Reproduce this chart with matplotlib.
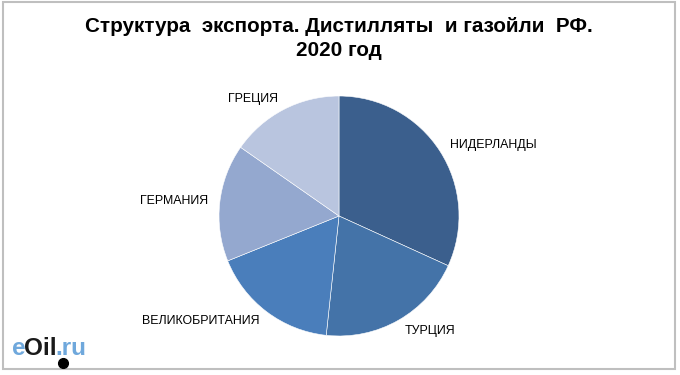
import matplotlib.pyplot as plt
from matplotlib.patches import Rectangle
from matplotlib.lines import Line2D

plt.rcParams['font.family'] = ['Liberation Sans', 'DejaVu Sans']

countries = ['НИДЕРЛАНДЫ', 'ТУРЦИЯ', 'ВЕЛИКОБРИТАНИЯ', 'ГЕРМАНИЯ', 'ГРЕЦИЯ']
shares = [31.8, 19.9, 17.2, 15.8, 15.3]
colors = ['#3b5f8d', '#4473a8', '#4a7ebb', '#94a8cf', '#b9c5df']

fig = plt.figure(figsize=(6.8, 3.75), dpi=100)

# рамка вокруг графика
fig.patches.append(Rectangle((0.004, 0.016), 0.988, 0.978, transform=fig.transFigure,
                             fill=False, edgecolor='#bfbfbf', linewidth=1.5))

ax = fig.add_axes([(339 - 120) / 680, (375 - 216 - 120) / 375, 240 / 680, 240 / 375])
wedges, texts = ax.pie(shares, labels=countries, colors=colors, startangle=90,
                       counterclock=False, labeldistance=1.1,
                       wedgeprops=dict(edgecolor='white', linewidth=0.4),
                       textprops=dict(fontsize=8.9, color='black'))
ax.set_xlim(-1, 1)
ax.set_ylim(-1, 1)
ax.set_aspect('equal')

fig.text(0.499, 0.897, 'Структура  экспорта. Дистилляты  и газойли  РФ.\n2020 год',
         ha='center', va='center', fontsize=14.9, fontweight='bold', linespacing=1.3)

# логотип eOil.ru
base = 20 / 375
x = 12
for part, col in [('e', '#6fa8dc'), ('Oil', '#1a1a1a'), ('.ru', '#6fa8dc')]:
    t = fig.text(x / 680, base, part, color=col, fontsize=17.5, fontweight='bold',
                 va='baseline')
    fig.canvas.draw()
    x = t.get_window_extent().x1 - 1.5
# капля нефти под буквой l
fig.add_artist(Line2D([63 / 680], [12 / 375], transform=fig.transFigure,
                      marker='o', markersize=7, color='black', linestyle='none'))

fig.savefig('out.png', dpi=100)
